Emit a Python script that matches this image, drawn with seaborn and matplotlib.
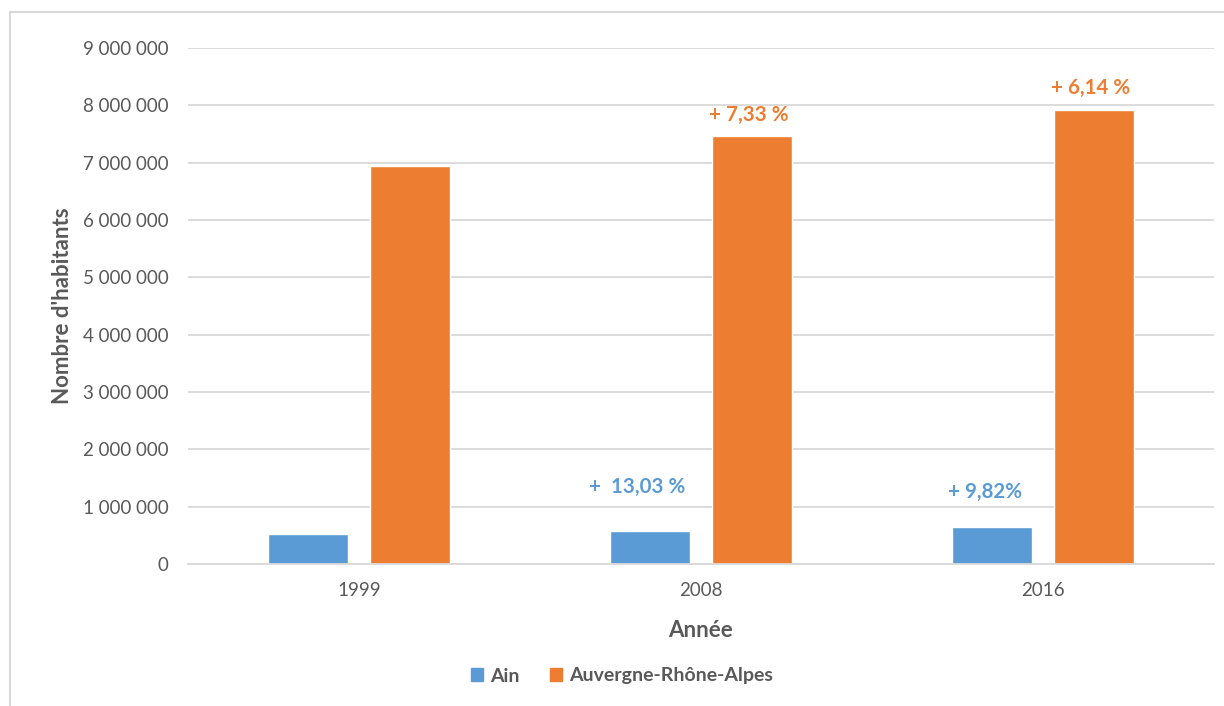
import matplotlib
matplotlib.use("Agg")
import matplotlib.pyplot as plt
from matplotlib.patches import Rectangle
from matplotlib.ticker import FuncFormatter
import seaborn as sns
import pandas as pd

# Population data
years = ["1999", "2008", "2016"]
ain = [515270, 582410, 639600]
region = [6949600, 7459000, 7917000]
series_names = ["Ain", "Auvergne-Rhône-Alpes"]

# Growth labels between census years
ain_growth = ["", "+  13,03 %", "+ 9,82%"]
region_growth = ["", "+ 7,33 %", "+ 6,14 %"]

df = pd.DataFrame({
    "Année": years * 2,
    "Population": ain + region,
    "Zone": [series_names[0]] * 3 + [series_names[1]] * 3,
})

BLUE = "#5B9BD5"
ORANGE = "#ED7D31"
GREY = "#595959"
GRID = "#D9D9D9"

sns.set_theme(style="white")
plt.rcParams["font.family"] = ["Lato", "DejaVu Sans"]

fig = plt.figure(figsize=(12.24, 7.06), dpi=100)
ax = fig.add_axes([188 / 1224, 1 - 564 / 706, (1214 - 188) / 1224, (564 - 48) / 706])

sns.barplot(data=df, x="Année", y="Population", hue="Zone",
            palette=[BLUE, ORANGE], width=0.6, gap=0.22,
            ax=ax, legend=False, saturation=1)

ax.set_ylim(0, 9_000_000)
ax.set_xlim(-0.5, 2.5)
ax.set_yticks(range(0, 9_000_001, 1_000_000))
ax.yaxis.set_major_formatter(FuncFormatter(lambda v, p: f"{int(v):,}".replace(",", " ")))
ax.grid(axis="y", color=GRID, linewidth=1.3)
ax.set_axisbelow(True)
for side in ["left", "right", "top"]:
    ax.spines[side].set_visible(False)
ax.spines["bottom"].set_color(GRID)
ax.spines["bottom"].set_linewidth(1.3)
ax.tick_params(axis="y", length=0, pad=14, labelsize=13.5, labelcolor=GREY)
ax.tick_params(axis="x", length=0, pad=13, labelsize=13.5, labelcolor=GREY)

ax.set_xlabel("Année", fontsize=16, fontweight="bold", color=GREY, labelpad=15)
ax.set_ylabel("Nombre d'habitants", fontsize=16, fontweight="bold", color=GREY, labelpad=7)

# Growth annotations
for i in range(1, 3):
    ax.text(i + 0.14, region[i] + 380_000, region_growth[i], ha="center", va="center",
            color=ORANGE, fontsize=14.8, fontweight="bold")
ax.text(1 - 0.187, 1_340_000, ain_growth[1], ha="center", va="center",
        color=BLUE, fontsize=14.8, fontweight="bold")
ax.text(2 - 0.17, 1_255_000, ain_growth[2], ha="center", va="center",
        color=BLUE, fontsize=14.8, fontweight="bold")

# Legend
handles = [Rectangle((0, 0), 1, 1, color=c) for c in (BLUE, ORANGE)]
leg = fig.legend(handles, series_names, loc="center", ncol=2, frameon=False,
                 bbox_to_anchor=(622 / 1224, 1 - 676 / 706),
                 handlelength=0.6, handleheight=0.6, handletextpad=0.35,
                 columnspacing=1.6, prop={"size": 14, "weight": "bold"})
for t in leg.get_texts():
    t.set_color(GREY)

# Chart-area frame
fig.patches.append(Rectangle((10 / 1224, -0.1), 1.2, 1 - 12 / 706 + 0.1,
                             transform=fig.transFigure, fill=False,
                             edgecolor="#D9D9D9", linewidth=1.5))

fig.savefig("out.png", dpi=100)
